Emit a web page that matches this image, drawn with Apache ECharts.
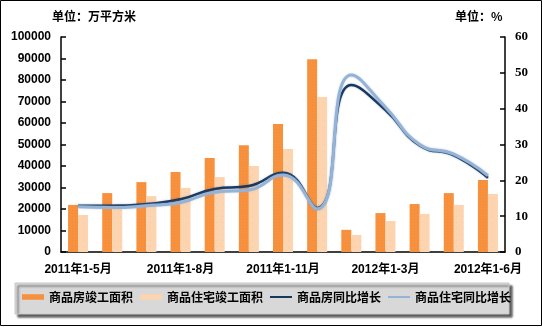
<!DOCTYPE html>
<html>
<head>
<meta charset="utf-8">
<script src="https://cdn.jsdelivr.net/npm/echarts@6/dist/echarts.min.js"></script>
<style>
  html, body { margin: 0; padding: 0; background: #fff; }
  #chart { width: 543px; height: 327px; }
</style>
</head>
<body>
<div id="chart"></div>
<script>
// Periods (cumulative months)
const categories = [
  '2011年1-5月', '2011年1-6月', '2011年1-7月', '2011年1-8月', '2011年1-9月',
  '2011年1-10月', '2011年1-11月', '2011年1-12月',
  '2012年1-2月', '2012年1-3月', '2012年1-4月', '2012年1-5月', '2012年1-6月'
];

// Completed floor area, 万平方米
const buildingArea = [21900, 27400, 32500, 37200, 43700, 49700, 59500, 89700, 10300, 18100, 22300, 27400, 33500];
const housingArea  = [17200, 22200, 26000, 29800, 34900, 40000, 47900, 72100, 7900, 14400, 17700, 21900, 27000];

// Year-on-year growth, %
const buildingGrowth = [12.9, 12.9, 13.4, 14.7, 17.6, 18.4, 22.1, 12.3, 46.6, 39.6, 29.7, 27.0, 20.7];
const housingGrowth  = [12.6, 12.4, 12.9, 13.8, 16.7, 17.3, 21.5, 12.0, 49.4, 40.4, 30.0, 27.3, 21.3];

// Left / right axis ranges
const leftAxis = { min: 0, max: 100000, step: 10000 };
const rightAxis = { min: 0, max: 60, step: 10 };

const seriesNames = ['商品房竣工面积', '商品住宅竣工面积', '商品房同比增长', '商品住宅同比增长'];

const cjk = '"Noto Sans CJK SC", "Liberation Sans", sans-serif';
const sansBold = '"Liberation Sans", "Noto Sans CJK SC", sans-serif';

const chart = echarts.init(document.getElementById('chart'), null, { renderer: 'canvas' });

const rectIcon = 'path://M0,0 L40,0 L40,10 L0,10 Z';
const lineIcon = 'path://M0,0 L44,0 L44,4 L0,4 Z';

chart.setOption({
  animation: false,
  backgroundColor: '#ffffff',
  grid: { left: 61, right: 38, top: 37, bottom: 75 },
  graphic: [
    {
      type: 'rect', left: 0, top: 0, z: -10,
      shape: { x: 0.5, y: 0.5, width: 541, height: 325 },
      style: { fill: '#ffffff', stroke: '#000000', lineWidth: 1 }
    },
    {
      type: 'rect', z: 0,
      shape: { x: 15, y: 283, width: 494, height: 31 },
      style: {
        fill: '#d8d8d8', stroke: '#c8c8c8', lineWidth: 1,
        shadowColor: 'rgba(60,60,60,0.85)', shadowOffsetX: 3, shadowOffsetY: 3, shadowBlur: 2
      }
    },
    {
      type: 'text', left: 52, top: 10,
      style: { text: '单位：万平方米', font: 'bold 12px ' + cjk, fill: '#000' }
    },
    {
      type: 'text', left: 455, top: 10,
      style: { text: '单位：%', font: 'bold 12px ' + cjk, fill: '#000' }
    }
  ],
  legend: {
    left: 22, top: 291, z: 5,
    itemGap: 7, itemWidth: 22, itemHeight: 6,
    padding: 0,
    textStyle: { fontFamily: cjk, fontWeight: 'bold', fontSize: 12, color: '#000' },
    data: [
      { name: seriesNames[0], icon: rectIcon },
      { name: seriesNames[1], icon: rectIcon },
      { name: seriesNames[2], icon: lineIcon },
      { name: seriesNames[3], icon: lineIcon }
    ]
  },
  xAxis: {
    type: 'category',
    data: categories,
    boundaryGap: true,
    axisLine: { lineStyle: { color: '#000', width: 1.5 } },
    axisTick: { inside: true, length: 5, interval: 0, lineStyle: { color: '#000', width: 1.5 } },
    axisLabel: {
      interval: 2, margin: 12,
      fontFamily: sansBold, fontWeight: 'bold', fontSize: 12, color: '#000'
    },
    splitLine: { show: false }
  },
  yAxis: [
    {
      type: 'value', min: leftAxis.min, max: leftAxis.max, interval: leftAxis.step,
      axisLine: { show: true, lineStyle: { color: '#000', width: 1.5 } },
      axisTick: { show: true, inside: true, length: 5, lineStyle: { color: '#000', width: 1.5 } },
      axisLabel: {
        margin: 10, fontFamily: sansBold, fontWeight: 'bold', fontSize: 12, color: '#000',
        formatter: (v) => String(v)
      },
      splitLine: { show: false }
    },
    {
      type: 'value', min: rightAxis.min, max: rightAxis.max, interval: rightAxis.step,
      position: 'right',
      axisLine: { show: true, lineStyle: { color: '#000', width: 1.5 } },
      axisTick: { show: true, inside: true, length: 5, lineStyle: { color: '#000', width: 1.5 } },
      axisLabel: { margin: 10, fontFamily: '"Liberation Serif", serif', fontWeight: 'bold', fontSize: 13, color: '#000' },
      splitLine: { show: false }
    }
  ],
  series: [
    {
      name: seriesNames[0], type: 'bar', data: buildingArea,
      barWidth: 10, barGap: '0%',
      itemStyle: {
        color: '#f7913d',
        decal: {
          symbol: 'rect', symbolSize: 0.5, color: 'rgba(214,90,40,0.35)',
          dashArrayX: [[1, 2]], dashArrayY: [1, 2], rotation: 0
        }
      }
    },
    {
      name: seriesNames[1], type: 'bar', data: housingArea,
      barWidth: 10, barGap: '0%',
      itemStyle: {
        color: '#fcd4b0',
        decal: {
          symbol: 'rect', symbolSize: 0.4, color: 'rgba(200,120,170,0.55)',
          dashArrayX: [[1, 5]], dashArrayY: [1, 5], rotation: 0
        }
      }
    },
    {
      name: seriesNames[2], type: 'line', yAxisIndex: 1, data: buildingGrowth,
      smooth: 0.5, showSymbol: false, symbol: 'none',
      lineStyle: { color: '#17375e', width: 2.5, shadowColor: 'rgba(23,55,94,0.35)', shadowBlur: 2 },
      itemStyle: { color: '#17375e' }, z: 3
    },
    {
      name: seriesNames[3], type: 'line', yAxisIndex: 1, data: housingGrowth,
      smooth: 0.5, showSymbol: false, symbol: 'none',
      lineStyle: { color: '#95b3d7', width: 3, shadowColor: 'rgba(149,179,215,0.6)', shadowBlur: 2 },
      itemStyle: { color: '#95b3d7' }, z: 4
    }
  ]
});
</script>
</body>
</html>
